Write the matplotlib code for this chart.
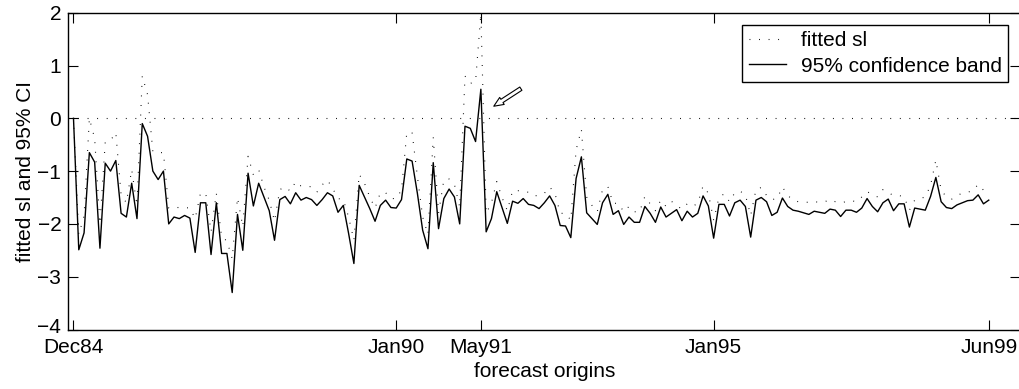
import matplotlib
matplotlib.use("Agg")
import matplotlib.pyplot as plt
import matplotlib.transforms as mtransforms
import numpy as np

plt.rcParams['font.family'] = ['Liberation Sans', 'DejaVu Sans']

# monthly forecast origins, Dec84 .. Jun99
tick_pos = [0, 61, 77, 121, 173]
tick_lab = ['Dec84', 'Jan90', 'May91', 'Jan95', 'Jun99']

fitted_sl = [
    0.0, -2.2, -1.85, 0.0, -0.38, -2.0, -0.45, -0.42, -0.27, -1.45,
    -1.6, -0.97, -1.65, 0.8, 0.45, -0.63, -0.65, -0.65, -1.7, -1.69,
    -1.69, -1.69, -1.7, -1.9, -1.42, -1.42, -2.15, -1.42, -2.25, -2.32,
    -2.66, -1.5, -2.05, -0.72, -1.07, -0.97, -1.3, -1.55, -1.95, -1.35,
    -1.3, -1.38, -1.2, -1.28, -1.28, -1.3, -1.4, -1.26, -1.17, -1.33,
    -1.52, -1.54, -1.87, -2.31, -1.06, -1.23, -1.49, -1.7, -1.41, -1.41,
    -1.52, -1.52, -1.36, -0.27, -0.27, -1.1, -1.87, -2.2, -0.36, -1.8,
    -1.17, -1.15, -1.25, -1.68, 0.8, 0.66, 0.7, 1.98, -1.8, -1.6,
    -1.2, -1.5, -1.75, -1.37, -1.37, -1.39, -1.4, -1.47, -1.46, -1.42,
    -1.3, -1.42, -1.8, -1.8, -1.93, -0.6, -0.21, -1.49, -1.65, -1.77,
    -1.35, -1.29, -1.61, -1.61, -1.77, -1.67, -1.77, -1.77, -1.48, -1.62,
    -1.75, -1.55, -1.67, -1.57, -1.65, -1.72, -1.62, -1.67, -1.61, -1.28,
    -1.42, -1.93, -1.5, -1.43, -1.58, -1.41, -1.38, -1.45, -1.84, -1.35,
    -1.31, -1.46, -1.54, -1.52, -1.3, -1.46, -1.55, -1.58, -1.59, -1.59,
    -1.58, -1.59, -1.58, -1.54, -1.58, -1.6, -1.58, -1.56, -1.58, -1.49,
    -1.39, -1.44, -1.49, -1.35, -1.41, -1.46, -1.46, -1.49, -1.74, -1.55,
    -1.52, -1.49, -1.27, -0.79, -1.36, -1.49, -1.53, -1.46, -1.42, -1.4,
    -1.37, -1.25, -1.36, -1.39,
]

conf_band = [
    0.0, -2.49, -2.17, -0.65, -0.83, -2.46, -0.85, -1.0, -0.8, -1.8,
    -1.87, -1.23, -1.9, -0.1, -0.34, -1.0, -1.16, -1.0, -2.0, -1.87,
    -1.9, -1.84, -1.89, -2.54, -1.6, -1.6, -2.58, -1.6, -2.56, -2.56,
    -3.3, -1.82, -2.5, -1.04, -1.66, -1.23, -1.49, -1.75, -2.31, -1.54,
    -1.48, -1.62, -1.41, -1.55, -1.5, -1.54, -1.65, -1.54, -1.41, -1.47,
    -1.78, -1.65, -2.18, -2.75, -1.27, -1.49, -1.71, -1.95, -1.65, -1.55,
    -1.69, -1.7, -1.54, -0.77, -0.81, -1.42, -2.12, -2.47, -0.84, -2.09,
    -1.52, -1.34, -1.49, -2.0, -0.15, -0.19, -0.44, 0.55, -2.15, -1.9,
    -1.39, -1.69, -1.99, -1.57, -1.61, -1.52, -1.63, -1.65, -1.71, -1.6,
    -1.47, -1.65, -2.03, -2.04, -2.26, -1.14, -0.73, -1.79, -1.9, -2.01,
    -1.6, -1.44, -1.82, -1.75, -2.01, -1.87, -1.97, -1.97, -1.67, -1.8,
    -1.97, -1.68, -1.87, -1.8, -1.73, -1.94, -1.76, -1.87, -1.8, -1.47,
    -1.66, -2.27, -1.63, -1.63, -1.85, -1.6, -1.55, -1.67, -2.25, -1.55,
    -1.5, -1.58, -1.84, -1.78, -1.51, -1.67, -1.74, -1.76, -1.79, -1.82,
    -1.76, -1.78, -1.8, -1.72, -1.74, -1.86, -1.74, -1.74, -1.78, -1.7,
    -1.52, -1.67, -1.77, -1.6, -1.53, -1.75, -1.62, -1.62, -2.06, -1.7,
    -1.72, -1.74, -1.48, -1.12, -1.58, -1.69, -1.71, -1.64, -1.6, -1.56,
    -1.55, -1.45, -1.62, -1.55,
]

x = np.arange(len(conf_band))
dots = (0, (0.8, 7.8))

fig = plt.figure(figsize=(10.19, 3.89), dpi=100)
ax = fig.add_axes([68.2 / 1019, 1 - 329.5 / 389, (1020.5 - 68.2) / 1019, (329.5 - 12.7) / 389])

ax.plot(x, fitted_sl, color='k', lw=0.8, linestyle=dots, label='fitted sl')
ax.plot(x, conf_band, color='k', lw=1.0, label='95% confidence band')
ax.axhline(0, color='k', lw=0.8, linestyle=dots)

# hollow arrow pointing at the May91 peak
ax.annotate('', xy=(79.0, 0.2), xytext=(85.0, 0.59),
            arrowprops=dict(arrowstyle='simple,head_length=0.7,head_width=0.6,tail_width=0.28',
                            fc='white', ec='k', lw=0.8))

ax.set_xlim(-1, 179)
ax.set_ylim(-4, 2)
ax.set_xticks(tick_pos)
ax.set_xticklabels(tick_lab)
ax.set_yticks(range(-4, 3))
ax.tick_params(direction='in', length=7, width=0.8, top=True, right=True,
               labelsize=15)
ax.tick_params(axis='x', pad=6)
ax.tick_params(axis='y', pad=5)
for s in ax.spines.values():
    s.set_linewidth(1.0)

# lift the bottom y label a little so it clears "Dec84"
lab = ax.get_yticklabels()[0]
lab.set_transform(lab.get_transform() + mtransforms.ScaledTranslation(0, 3 / 72, fig.dpi_scale_trans))

ax.set_xlabel('forecast origins', fontsize=15, labelpad=4)
ax.set_ylabel('fitted sl and 95% CI', fontsize=15, labelpad=2)

leg = ax.legend(loc='upper right', fontsize=15, frameon=True, fancybox=False,
                edgecolor='k', framealpha=1, borderpad=0.3, handlelength=1.8,
                handletextpad=0.7, labelspacing=0.3, borderaxespad=0.6)
leg.get_frame().set_linewidth(1.0)

fig.savefig('out.png', dpi=100)
